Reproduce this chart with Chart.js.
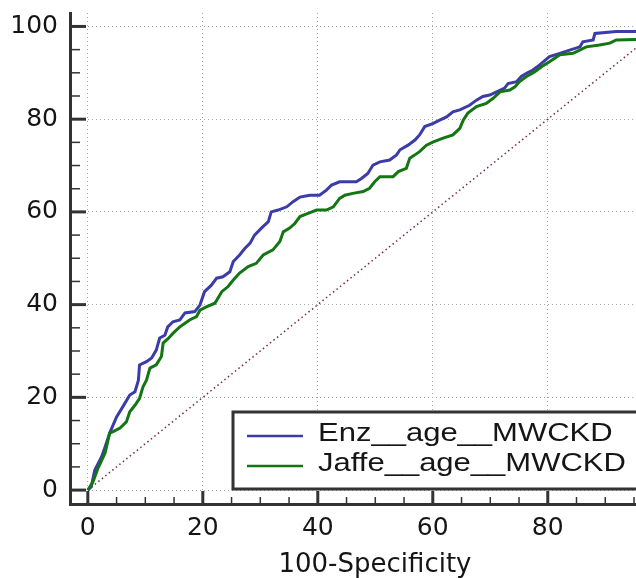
<!DOCTYPE html>
<html>
<head>
<meta charset="utf-8">
<title>ROC curves</title>
<script src="https://cdn.jsdelivr.net/npm/chart.js@4.4.1/dist/chart.umd.min.js"></script>
<style>
  html, body { margin: 0; padding: 0; background: #fff; overflow: hidden; }
  #wrap { width: 700px; height: 578px; }
</style>
</head>
<body>
<div id="wrap"><canvas id="roc"></canvas></div>
<script>
// Series names shown in the legend box
const seriesNames = ['Enz__age__MWCKD', 'Jaffe__age__MWCKD'];
const xTitle = '100-Specificity';
const tickValues = [0, 20, 40, 60, 80, 100];

// Enz curve (100-specificity, sensitivity)
const enzFpr = [0, 0.6, 1.2, 2.4, 3.0, 3.8, 5.0, 6.1, 7.3, 8.2, 8.8, 9.0, 10.2, 11.1, 11.9, 12.5, 13.4, 13.9, 14.8, 16.0,
  16.9, 18.6, 19.5, 20.3, 21.5, 22.4, 23.5, 24.7, 25.3, 26.4, 27.3, 28.2, 29.0, 30.2, 31.4, 31.9, 33.1, 34.6, 35.7, 36.9,
  38.6, 40.3, 41.5, 42.4, 43.8, 46.7, 47.6, 48.7, 49.6, 50.8, 52.5, 53.7, 54.3, 55.7, 56.9, 57.7, 58.6, 60.1, 61.2, 62.4,
  63.5, 64.7, 66.4, 67.6, 68.7, 69.9, 71.1, 72.5, 73.1, 74.6, 75.4, 76.3, 77.4, 78.6, 80.3, 82.1, 83.8, 85.6, 86.1, 87.9,
  88.2, 91.9, 98.5, 100];
const enzTpr = [0, 0.7, 4.3, 7.2, 9.3, 12.3, 15.8, 18.0, 20.5, 21.2, 23.7, 27.0, 27.7, 28.5, 30.2, 32.8, 33.4, 35.2, 36.3, 36.7,
  38.2, 38.5, 39.9, 42.8, 44.2, 45.7, 46.0, 47.1, 49.3, 50.7, 52.1, 53.2, 55.0, 56.5, 57.9, 60.0, 60.4, 61.1, 62.2, 63.2,
  63.6, 63.6, 64.7, 65.8, 66.5, 66.5, 67.2, 68.3, 70.1, 70.8, 71.2, 72.3, 73.4, 74.4, 75.5, 76.6, 78.4, 79.1, 79.8, 80.5,
  81.6, 82.0, 83.0, 84.1, 84.9, 85.2, 85.9, 86.7, 87.7, 88.1, 89.2, 89.9, 90.6, 91.7, 93.5, 94.2, 94.9, 95.6, 96.7, 97.1,
  98.5, 98.9, 98.9, 100];

// Jaffe curve
const jaffeFpr = [0, 0.9, 1.8, 3.0, 3.8, 4.4, 5.6, 6.7, 7.3, 8.2, 9.0, 9.6, 10.2, 10.8, 11.9, 12.8, 13.1, 14.0, 14.8, 16.0,
  16.9, 17.7, 18.9, 19.5, 20.6, 22.1, 23.3, 24.4, 25.3, 26.4, 27.9, 29.3, 30.5, 32.2, 33.4, 34.0, 35.1, 36.0, 36.9, 38.3,
  39.8, 41.5, 42.7, 43.8, 44.7, 46.1, 47.9, 49.0, 49.9, 50.8, 53.1, 54.0, 55.4, 56.0, 56.9, 57.7, 58.9, 60.1, 61.8, 63.5,
  64.7, 65.3, 66.1, 67.6, 69.3, 70.5, 71.7, 73.4, 74.3, 75.1, 76.3, 77.7, 78.9, 80.3, 82.1, 84.4, 86.7, 89.0, 90.8, 91.9,
  99.0, 100];
const jaffeTpr = [0, 1.8, 4.8, 8.0, 12.3, 12.6, 13.4, 14.7, 16.9, 18.3, 19.8, 22.3, 23.7, 26.3, 27.0, 28.8, 31.7, 32.7, 33.8, 35.2,
  36.0, 36.7, 37.4, 38.8, 39.5, 40.3, 42.8, 43.9, 45.3, 46.8, 48.2, 48.9, 50.7, 51.8, 53.6, 55.7, 56.5, 57.5, 59.0, 59.7,
  60.4, 60.4, 61.1, 62.9, 63.6, 64.0, 64.4, 65.1, 66.5, 67.6, 67.6, 68.7, 69.4, 71.6, 72.3, 73.0, 74.4, 75.1, 75.9, 76.6,
  78.0, 79.8, 81.3, 82.7, 83.4, 84.5, 85.9, 86.3, 87.0, 88.1, 89.2, 90.2, 91.3, 92.4, 93.9, 94.2, 95.6, 96.0, 96.4, 97.1,
  97.3, 100];

// chance line
const diagX = [0, 100];
const diagY = [0, 100];

const COLORS = {
  enz: '#3c3ca8',
  jaffe: '#137613',
  diag: '#7a2a38',
  axis: '#333333',
  grid: '#a6a6a6',
  text: '#151515'
};

const toPoints = (xs, ys) => xs.map((x, i) => ({ x: x, y: ys[i] }));

// inward tick marks (major every 20, minor every 5) and the legend box
const rocDecor = {
  id: 'rocDecor',
  afterDatasetsDraw(chart) {
    const { ctx, chartArea: a, scales: { x, y } } = chart;
    ctx.save();
    ctx.strokeStyle = COLORS.axis;
    for (let v = 0; v <= 100; v += 5) {
      const major = v % 20 === 0;
      ctx.lineWidth = major ? 3 : 1.5;
      const py = y.getPixelForValue(v);
      ctx.beginPath();
      ctx.moveTo(a.left, py);
      ctx.lineTo(a.left + (major ? 16 : 10), py);
      ctx.stroke();
      const px = x.getPixelForValue(v);
      ctx.beginPath();
      ctx.moveTo(px, a.bottom);
      ctx.lineTo(px, a.bottom - (major ? 13 : 7));
      ctx.stroke();
    }

    // legend
    const bx = 233, by = 412, bw = 460, bh = 77;
    ctx.fillStyle = '#fff';
    ctx.fillRect(bx, by, bw, bh);
    ctx.lineWidth = 3;
    ctx.strokeStyle = COLORS.axis;
    ctx.strokeRect(bx, by, bw, bh);
    const rows = [
      { name: seriesNames[0], color: COLORS.enz, y: 436 },
      { name: seriesNames[1], color: COLORS.jaffe, y: 466 }
    ];
    rows.forEach(r => {
      ctx.lineWidth = 2.5;
      ctx.strokeStyle = r.color;
      ctx.beginPath();
      ctx.moveTo(247, r.y);
      ctx.lineTo(303, r.y);
      ctx.stroke();
      ctx.save();
      ctx.translate(318, r.y - 2);
      ctx.scale(1.24, 1);
      ctx.fillStyle = COLORS.text;
      ctx.font = '25px "Liberation Sans", Arial, sans-serif';
      ctx.textBaseline = 'middle';
      ctx.fillText(r.name, 0, 0);
      ctx.restore();
    });
    ctx.restore();
  }
};

const tickFont = { family: '"DejaVu Sans", sans-serif', size: 25 };

new Chart(document.getElementById('roc'), {
  type: 'line',
  data: {
    datasets: [
      {
        label: seriesNames[1],
        data: toPoints(jaffeFpr, jaffeTpr),
        borderColor: COLORS.jaffe,
        borderWidth: 3,
        pointRadius: 0,
        tension: 0,
        order: 0
      },
      {
        label: seriesNames[0],
        data: toPoints(enzFpr, enzTpr),
        borderColor: COLORS.enz,
        borderWidth: 3,
        pointRadius: 0,
        tension: 0,
        order: 1
      },
      {
        label: 'Reference',
        data: toPoints(diagX, diagY),
        borderColor: COLORS.diag,
        borderWidth: 1.5,
        borderDash: [1.5, 3],
        pointRadius: 0,
        order: 2
      }
    ]
  },
  options: {
    responsive: true,
    maintainAspectRatio: false,
    animation: false,
    layout: { padding: { top: 13, right: 20, left: 0, bottom: 0 } },
    plugins: {
      legend: { display: false },
      tooltip: { enabled: false }
    },
    scales: {
      x: {
        type: 'linear',
        min: -3.1,
        max: 103,
        afterBuildTicks: s => { s.ticks = tickValues.map(v => ({ value: v })); },
        afterFit: s => { s.height = 74; s.paddingLeft = 0; s.paddingRight = 0; },
        grid: { color: COLORS.grid, lineWidth: 1, drawTicks: false },
        border: { display: true, color: COLORS.axis, width: 3, dash: [1, 3] },
        ticks: { color: COLORS.text, font: tickFont, padding: 9, maxRotation: 0 },
        title: {
          display: true,
          text: xTitle,
          color: COLORS.text,
          font: { family: '"DejaVu Sans", sans-serif', size: 26, lineHeight: 1 },
          padding: 0
        }
      },
      y: {
        type: 'linear',
        min: -3.0,
        max: 102.9,
        afterBuildTicks: s => { s.ticks = tickValues.map(v => ({ value: v })); },
        afterFit: s => { s.width = 70; s.paddingTop = 0; s.paddingBottom = 0; },
        grid: { color: COLORS.grid, lineWidth: 1, drawTicks: false },
        border: { display: true, color: COLORS.axis, width: 3, dash: [1, 3] },
        ticks: { color: COLORS.text, font: tickFont, padding: 12 }
      }
    }
  },
  plugins: [rocDecor]
});
</script>
</body>
</html>
